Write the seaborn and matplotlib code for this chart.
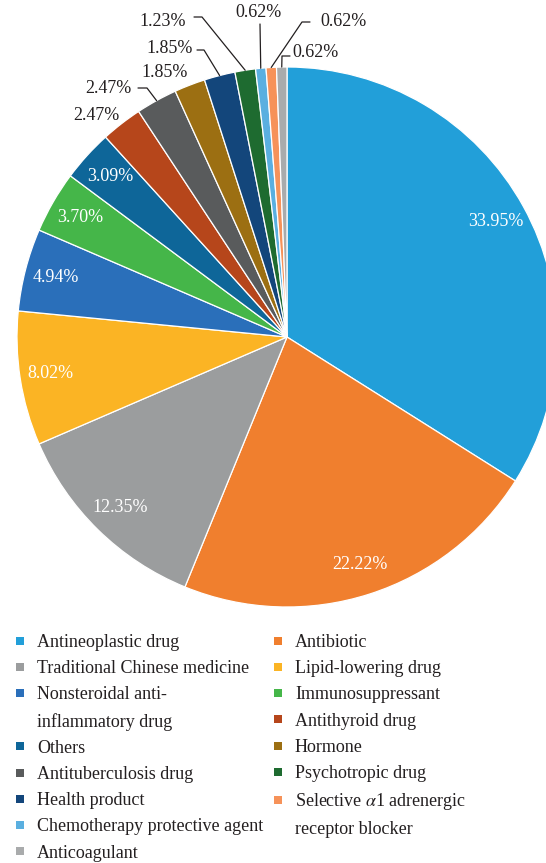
import matplotlib
matplotlib.use("Agg")
import matplotlib.pyplot as plt
from matplotlib.lines import Line2D
import numpy as np
import seaborn as sns

categories = [
    "Antineoplastic drug",
    "Antibiotic",
    "Traditional Chinese medicine",
    "Lipid-lowering drug",
    "Nonsteroidal anti-\ninflammatory drug",
    "Immunosuppressant",
    "Others",
    "Antithyroid drug",
    "Antituberculosis drug",
    "Hormone",
    "Health product",
    "Psychotropic drug",
    "Chemotherapy protective agent",
    "Selective $\\alpha$1 adrenergic\nreceptor blocker",
    "Anticoagulant",
]
shares = [33.95, 22.22, 12.35, 8.02, 4.94, 3.70, 3.09, 2.47, 2.47, 1.85, 1.85, 1.23, 0.62, 0.62, 0.62]
colors = [
    "#229fd9", "#f07f2e", "#9b9d9e", "#fbb424", "#2a6fba",
    "#45b649", "#0e6699", "#b6461b", "#595b5c", "#9c6f12",
    "#13467b", "#1e6b30", "#5aafe0", "#f69259", "#a9abac",
]

sns.set_theme(style="white")
plt.rcParams["font.family"] = ["Liberation Serif", "DejaVu Serif"]
plt.rcParams["mathtext.fontset"] = "stix"
text_col = "#231f20"
fs = 13

W, H = 546, 863
fig = plt.figure(figsize=(W / 100, H / 100), dpi=100)
cx, cy, r = 287, 337, 270
ax = fig.add_axes([(cx - r) / W, (H - cy - r) / H, 2 * r / W, 2 * r / H])

wedges, _ = ax.pie(
    shares,
    colors=colors,
    startangle=90,
    counterclock=False,
    radius=1,
    wedgeprops=dict(edgecolor="white", linewidth=0.9),
)
ax.set_xlim(-1, 1)
ax.set_ylim(-1, 1)
ax.set_aspect("equal")
ax.axis("off")


def px(p):
    # pixel position -> data coords of the pie axes
    return ((p[0] - cx) / r, (cy - p[1]) / r)


# percentage labels inside the big slices
for i, w in enumerate(wedges[:7]):
    ang = np.deg2rad((w.theta1 + w.theta2) / 2)
    ax.text(0.885 * np.cos(ang), 0.885 * np.sin(ang), f"{shares[i]:.2f}%",
            ha="center", va="center", color="white", fontsize=fs)

# outside labels for the small slices, with leader lines
outside = {
    7: ((96, 115), "center", []),
    8: ((131, 88), "right", [(147, 88), (138, 88)]),
    9: ((165, 72), "center", []),
    10: ((193, 48), "right", [(204, 50), (197, 50)]),
    11: ((186, 21), "right", [(202, 17), (194, 17)]),
    12: ((259, 12), "center", [(260, 24)]),
    13: ((320, 21), "left", [(302, 22), (310, 22)]),
    14: ((292, 52), "left", [(282, 56), (290, 56)]),
}
for i, (tpos, ha, path) in outside.items():
    w = wedges[i]
    ang = np.deg2rad((w.theta1 + w.theta2) / 2)
    if path:
        pts = [(np.cos(ang), np.sin(ang))] + [px(p) for p in path]
        xs, ys = zip(*pts)
        ax.plot(xs, ys, color=text_col, lw=0.9, clip_on=False)
    tx, ty = px(tpos)
    ax.text(tx, ty, f"{shares[i]:.2f}%", ha=ha, va="center", color=text_col, fontsize=fs)


# legend: two independent columns, multi-line labels split into rows
def column(idx):
    handles, labels = [], []
    for i in idx:
        lines = categories[i].split("\n")
        for k, line in enumerate(lines):
            if k == 0:
                h = Line2D([], [], marker="s", linestyle="none", markersize=6.3,
                           markerfacecolor=colors[i], markeredgewidth=0)
            else:
                h = Line2D([], [], linestyle="none")
            handles.append(h)
            labels.append(line)
    return handles, labels


for idx, x0 in [(range(0, 15, 2), 11), (range(1, 15, 2), 269)]:
    hs, ls = column(idx)
    fig.legend(hs, ls, loc="upper left", bbox_to_anchor=(x0 / W, 1 - 634 / H),
               frameon=False, borderpad=0, borderaxespad=0, handlelength=1.0,
               handletextpad=0.44, labelspacing=0.51, fontsize=fs, labelcolor=text_col)

fig.savefig("out.png", dpi=100)
